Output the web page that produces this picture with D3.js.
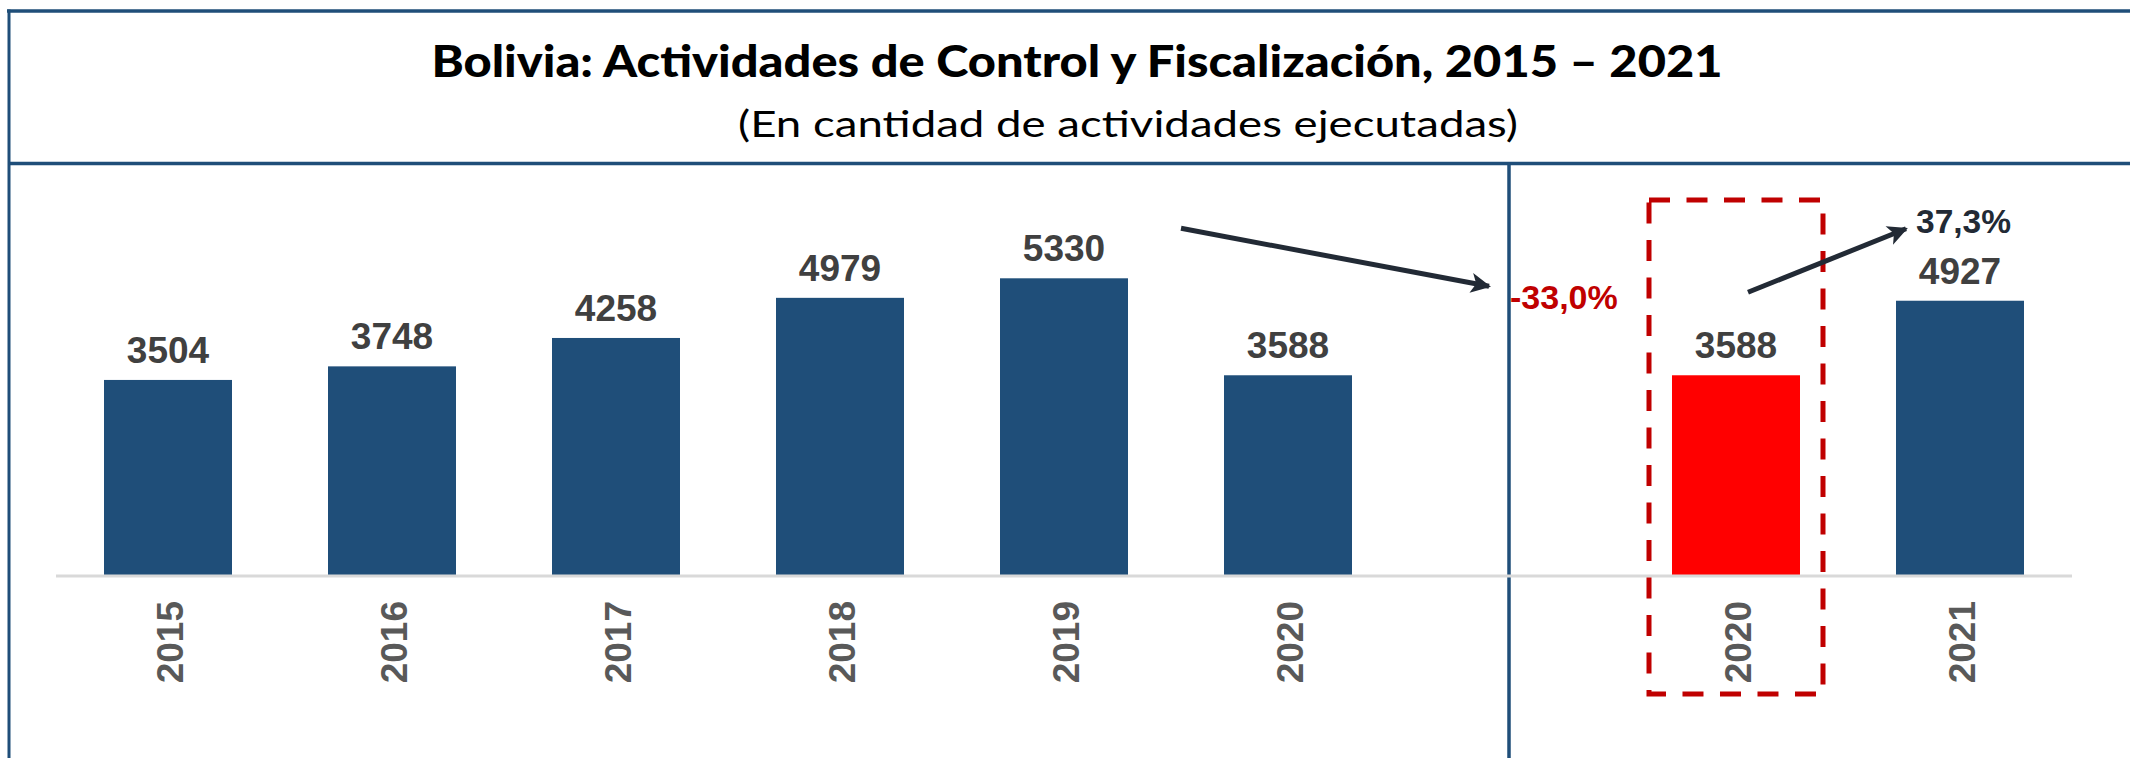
<!DOCTYPE html>
<html>
<head>
<meta charset="utf-8">
<script src="https://cdn.jsdelivr.net/npm/d3@7"></script>
<style>
  html, body { margin: 0; padding: 0; background: #ffffff; }
  svg { display: block; }
</style>
</head>
<body>
<svg id="chart" width="2130" height="758"></svg>
<script>
// ---- data ----
const titleText = "Bolivia: Actividades de Control y Fiscalización, 2015 – 2021";
const subtitleText = "(En cantidad de actividades ejecutadas)";
const leftYears = ["2015", "2016", "2017", "2018", "2019", "2020"];
const leftValues = [3504, 3748, 4258, 4979, 5330, 3588];
const rightYears = ["2020", "2021"];
const rightValues = [3588, 4927];
const highlightYear = "2020";
const changeDown = "-33,0%";
const changeUp = "37,3%";

// ---- layout ----
const W = 2130, H = 758;
const svg = d3.select("#chart");
const navy = "#1f4e79";

const keys = leftYears.map(y => "L" + y).concat(["sep"], rightYears.map(y => "R" + y));
const bars = leftYears.map((y, i) => ({ key: "L" + y, year: y, value: leftValues[i], hl: false }))
  .concat(rightYears.map((y, i) => ({ key: "R" + y, year: y, value: rightValues[i], hl: y === highlightYear })));

const x = d3.scaleBand().domain(keys).range([56, 2072]).paddingInner(0.4286).paddingOuter(0.2143);
const y = d3.scaleLinear().domain([0, 6000]).range([575, 241]);
const cx = k => x(k) + x.bandwidth() / 2;

// frame
svg.append("line").attr("x1", 7).attr("x2", W).attr("y1", 11).attr("y2", 11)
  .attr("stroke", navy).attr("stroke-width", 3.5);
svg.append("line").attr("x1", 9).attr("x2", 9).attr("y1", 9.5).attr("y2", H)
  .attr("stroke", navy).attr("stroke-width", 3);
svg.append("line").attr("x1", 9).attr("x2", W).attr("y1", 163.5).attr("y2", 163.5)
  .attr("stroke", navy).attr("stroke-width", 3.5);

// titles
svg.append("text").attr("x", 1077).attr("y", 77)
  .attr("text-anchor", "middle")
  .attr("font-family", "Lato, 'Open Sans', sans-serif").attr("font-weight", 900)
  .attr("font-size", 44).attr("fill", "#000")
  .attr("textLength", 1291).attr("lengthAdjust", "spacingAndGlyphs")
  .text(titleText);
svg.append("text").attr("x", 1128).attr("y", 137)
  .attr("text-anchor", "middle")
  .attr("font-family", "Lato, 'Open Sans', sans-serif").attr("font-weight", 400)
  .attr("font-size", 37).attr("fill", "#000")
  .attr("textLength", 780).attr("lengthAdjust", "spacingAndGlyphs")
  .text(subtitleText);

// divider
const divX = cx("sep") - 3;
svg.append("line").attr("x1", divX).attr("x2", divX).attr("y1", 163).attr("y2", H)
  .attr("stroke", navy).attr("stroke-width", 3.5);

// bars
svg.append("g").selectAll("rect").data(bars).join("rect")
  .attr("x", d => x(d.key)).attr("width", x.bandwidth())
  .attr("y", d => y(d.value)).attr("height", d => y(0) - y(d.value) + 1)
  .attr("fill", d => d.hl ? "#ff0000" : navy);

// baseline
svg.append("line").attr("x1", x.range()[0]).attr("x2", x.range()[1])
  .attr("y1", y(0) + 1).attr("y2", y(0) + 1)
  .attr("stroke", "#d9d9d9").attr("stroke-width", 3);

// value labels
svg.append("g").selectAll("text").data(bars).join("text")
  .attr("x", d => cx(d.key)).attr("y", d => y(d.value) - 17)
  .attr("text-anchor", "middle")
  .attr("font-family", "'Liberation Sans', Arial, sans-serif").attr("font-weight", 700)
  .attr("font-size", 37).attr("fill", "#404040")
  .text(d => d.value);

// axis labels (rotated)
const axisG = svg.append("g");
axisG.selectAll("text").data(bars).join("text")
  .attr("transform", d => `translate(${cx(d.key) + 15},601) rotate(-90)`)
  .attr("text-anchor", "end")
  .attr("font-family", "'Liberation Sans', Arial, sans-serif").attr("font-weight", 700)
  .attr("font-size", 37).attr("fill", "#595959")
  .text(d => d.year);

// highlight dashed box
const hk = "R" + highlightYear;
svg.append("rect")
  .attr("x", x(hk) - 23).attr("width", x.bandwidth() + 46)
  .attr("y", 200).attr("height", 494)
  .attr("fill", "none").attr("stroke", "#c00000").attr("stroke-width", 5)
  .attr("stroke-dasharray", "21,16.5");

// arrows
const defs = svg.append("defs");
defs.append("marker").attr("id", "ah")
  .attr("viewBox", "0 0 10 10").attr("refX", 9).attr("refY", 5)
  .attr("markerUnits", "userSpaceOnUse")
  .attr("markerWidth", 24).attr("markerHeight", 20).attr("orient", "auto")
  .append("path").attr("d", "M0,0 L10,5 L0,10 L2.5,5 Z").attr("fill", "#222a35");

const arrowColor = "#222a35";
// down arrow: from above 2019 bar to the -33,0% label
const a1 = { x1: x("L2019") + x.bandwidth() + 53, y1: y(5330) - 50, x2: divX - 20, y2: y(3588) - 89 };
svg.append("line").attr("x1", a1.x1).attr("y1", a1.y1).attr("x2", a1.x2).attr("y2", a1.y2)
  .attr("stroke", arrowColor).attr("stroke-width", 5).attr("marker-end", "url(#ah)");
// up arrow: from the 2020 highlight to the 2021 bar
const a2 = { x1: cx(hk) + 12, y1: y(3588) - 83, x2: x("R2021") + 10, y2: y(4927) - 72 };
svg.append("line").attr("x1", a2.x1).attr("y1", a2.y1).attr("x2", a2.x2).attr("y2", a2.y2)
  .attr("stroke", arrowColor).attr("stroke-width", 5).attr("marker-end", "url(#ah)");

// change labels
svg.append("text").attr("x", divX + 1).attr("y", y(3588) - 66)
  .attr("font-family", "'Liberation Sans', Arial, sans-serif").attr("font-weight", 700)
  .attr("font-size", 34).attr("fill", "#c00000")
  .text(changeDown);
svg.append("text").attr("x", x("R2021") + 20).attr("y", y(4927) - 68)
  .attr("font-family", "'Liberation Sans', Arial, sans-serif").attr("font-weight", 700)
  .attr("font-size", 33.5).attr("fill", "#222a35")
  .text(changeUp);
</script>
</body>
</html>
